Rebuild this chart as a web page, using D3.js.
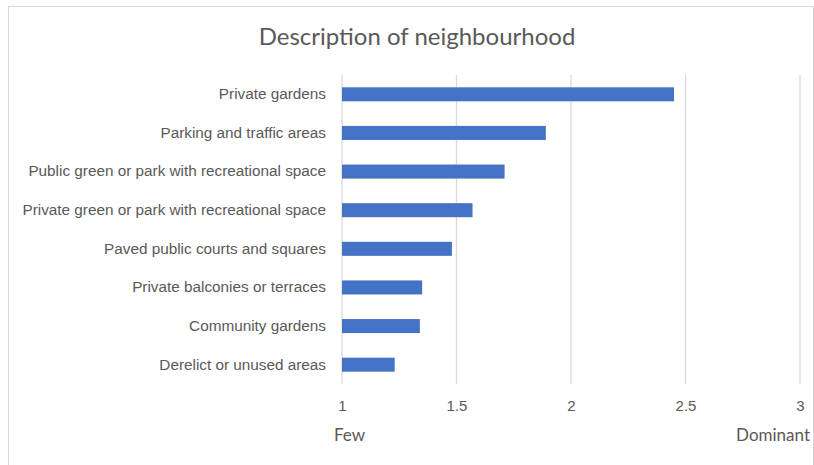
<!DOCTYPE html>
<html>
<head>
<meta charset="utf-8">
<script src="https://cdn.jsdelivr.net/npm/d3@7"></script>
<style>
    body { margin: 0; background: #fff; }
    svg { display: block; font-family: Lato, "Open Sans", sans-serif; }
</style>
</head>
<body>
<script>
(function() {
    // chart data
    var categories = [
        "Private gardens",
        "Parking and traffic areas",
        "Public green or park with recreational space",
        "Private green or park with recreational space",
        "Paved public courts and squares",
        "Private balconies or terraces",
        "Community gardens",
        "Derelict or unused areas"
    ];
    var values = [2.45, 1.89, 1.71, 1.57, 1.48, 1.35, 1.34, 1.23];
    var tickValues = [1, 1.5, 2, 2.5, 3];
    var endLabels = ["Few", "Dominant"];

    var width = 814, height = 465;
    var margin = { top: 75, right: 14, bottom: 81, left: 342 };

    var svg = d3.select("body").append("svg")
        .attr("width", width)
        .attr("height", height);

    // chart frame
    svg.append("rect")
        .attr("x", 8.5)
        .attr("y", 6.5)
        .attr("width", 805)
        .attr("height", 470)
        .attr("fill", "#fff")
        .attr("stroke", "#d9d9d9");

    svg.append("text")
        .attr("x", 417)
        .attr("y", 45)
        .attr("text-anchor", "middle")
        .attr("fill", "#595959")
        .style("font-size", "24px")
        .text("Description of neighbourhood");

    var x = d3.scaleLinear()
        .domain([1, 3])
        .range([margin.left, 800]);

    var y = d3.scaleBand()
        .domain(categories)
        .range([margin.top, height - margin.bottom])
        .paddingInner(0.637)
        .paddingOuter(0.3185);

    // gridlines
    svg.append("g")
        .selectAll("line")
        .data(tickValues)
        .enter().append("line")
        .attr("x1", function(d) { return x(d); })
        .attr("x2", function(d) { return x(d); })
        .attr("y1", margin.top)
        .attr("y2", height - margin.bottom)
        .attr("stroke", "#d9d9d9")
        .attr("stroke-width", 1.3);

    // bars
    svg.append("g")
        .selectAll("rect")
        .data(values)
        .enter().append("rect")
        .attr("x", x(1))
        .attr("y", function(d, i) { return y(categories[i]); })
        .attr("width", function(d) { return x(d) - x(1); })
        .attr("height", y.bandwidth())
        .attr("fill", "#4472c4");

    // category axis
    var yAxis = svg.append("g")
        .attr("transform", "translate(" + (margin.left - 16) + ",0)")
        .call(d3.axisLeft(y).tickSize(0).tickPadding(0));
    yAxis.select(".domain").remove();
    yAxis.selectAll("text")
        .attr("fill", "#595959")
        .style("font-size", "15.3px");

    // value axis
    var xAxis = svg.append("g")
        .attr("transform", "translate(0," + (height - margin.bottom) + ")")
        .call(d3.axisBottom(x).tickValues(tickValues).tickSize(0).tickPadding(16)
            .tickFormat(function(d) { return String(d); }));
    xAxis.select(".domain").remove();
    xAxis.selectAll("text")
        .attr("fill", "#595959")
        .style("font-size", "15px");

    // end labels
    svg.append("text")
        .attr("x", 334)
        .attr("y", 441)
        .attr("fill", "#595959")
        .style("font-size", "17px")
        .text(endLabels[0]);
    svg.append("text")
        .attr("x", 810)
        .attr("y", 441)
        .attr("text-anchor", "end")
        .attr("fill", "#595959")
        .style("font-size", "17px")
        .text(endLabels[1]);
})();
</script>
</body>
</html>
